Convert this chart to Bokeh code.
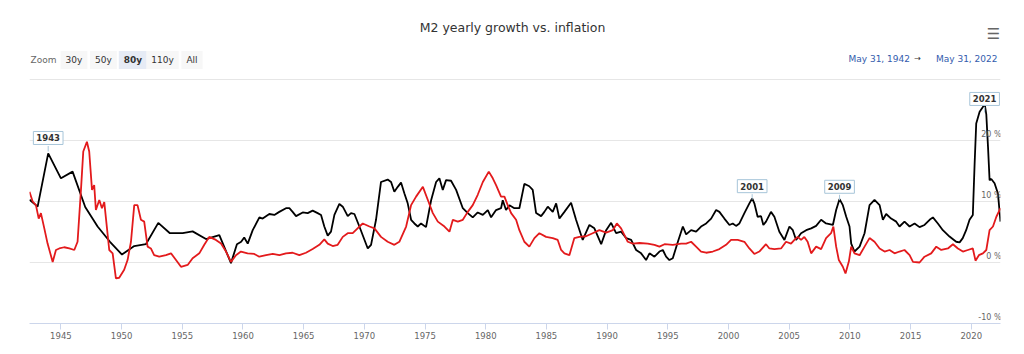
from bokeh.plotting import figure
from bokeh.models import Range1d, FixedTicker, Grid, Label, ColumnDataSource
from bokeh.embed import file_html
from bokeh.resources import INLINE

# ---------------- data ----------------
m2_year = [1942.41, 1943.08, 1943.95, 1945.00, 1945.96, 1947.00, 1948.02, 1949.04, 1950.03, 1951.04,
           1952.00, 1953.02, 1953.98, 1955.03, 1955.85, 1956.95, 1958.05, 1959.01, 1959.50, 1959.85,
           1960.10, 1960.39, 1960.80, 1961.35, 1961.62, 1962.17, 1962.58, 1962.99, 1963.54, 1963.82,
           1964.09, 1964.37, 1964.92, 1965.33, 1965.74, 1966.15, 1966.43, 1966.70, 1966.98, 1967.25,
           1967.53, 1967.94, 1968.22, 1968.63, 1968.90, 1969.18, 1969.59, 1970.28, 1970.55, 1970.96,
           1971.37, 1971.92, 1972.20, 1972.47, 1972.75, 1973.02, 1973.30, 1973.57, 1973.85, 1974.12,
           1974.40, 1974.67, 1975.08, 1975.50, 1975.91, 1976.18, 1976.46, 1976.73, 1977.14, 1977.56,
           1978.11, 1978.52, 1978.93, 1979.34, 1979.76, 1980.17, 1980.44, 1980.85, 1981.26, 1981.40,
           1981.67, 1981.95, 1982.36, 1982.77, 1983.18, 1983.59, 1983.87, 1984.15, 1984.56, 1984.83,
           1985.11, 1985.52, 1985.80, 1986.07, 1986.48, 1987.03, 1987.44, 1987.99, 1988.54, 1988.95,
           1989.51, 1989.92, 1990.33, 1990.74, 1991.15, 1991.57, 1991.98, 1992.39, 1992.80, 1993.21,
           1993.49, 1993.90, 1994.31, 1994.59, 1994.86, 1995.13, 1995.41, 1995.83, 1996.24, 1996.51,
           1996.92, 1997.33, 1997.74, 1998.16, 1998.57, 1998.98, 1999.25, 1999.66, 2000.08, 2000.35,
           2000.62, 2000.90, 2001.31, 2001.72, 2001.95, 2002.13, 2002.40, 2002.68, 2002.87, 2003.09,
           2003.50, 2003.78, 2004.19, 2004.61, 2005.02, 2005.30, 2005.57, 2005.98, 2006.40, 2006.81,
           2007.22, 2007.63, 2008.04, 2008.60, 2008.87, 2009.15, 2009.42, 2009.70, 2009.97, 2010.11,
           2010.38, 2010.80, 2011.21, 2011.62, 2012.03, 2012.45, 2012.72, 2012.99, 2013.40, 2013.82,
           2014.09, 2014.50, 2014.92, 2015.33, 2015.74, 2016.15, 2016.57, 2016.84, 2017.25, 2017.66,
           2018.21, 2018.76, 2019.04, 2019.30, 2019.58, 2019.86, 2020.13, 2020.28, 2020.41, 2020.69,
           2020.96, 2021.10, 2021.24, 2021.38, 2021.51, 2021.65, 2021.92, 2022.20, 2022.41]
m2_growth = [10.3, 9.15, 17.9, 13.8, 14.9, 9.1, 5.9, 3.4, 1.3, 2.7,
             3.0, 6.5, 4.8, 4.8, 5.1, 3.85, 4.5, -0.1, 3.0, 3.4,
             4.1, 3.1, 5.3, 7.4, 7.2, 7.95, 7.8, 8.3, 8.9, 8.9,
             8.3, 7.6, 8.2, 8.1, 8.5, 8.1, 7.8, 5.9, 4.4, 5.05,
             7.8, 9.6, 9.15, 7.6, 8.1, 7.95, 5.9, 2.3, 2.9, 7.0,
             13.2, 13.6, 13.2, 11.6, 12.4, 13.1, 11.3, 9.7, 7.0, 6.4,
             5.9, 6.4, 5.8, 10.2, 13.2, 13.8, 11.9, 13.5, 13.4, 11.9,
             8.9, 8.1, 7.4, 8.2, 7.8, 8.6, 7.4, 8.6, 8.9, 10.2,
             8.6, 9.4, 8.9, 8.9, 12.9, 12.5, 11.9, 8.1, 7.6, 8.3,
             9.15, 8.3, 9.7, 7.2, 8.3, 9.8, 7.0, 3.7, 6.15, 5.6,
             3.0, 5.3, 6.5, 4.8, 5.05, 4.0, 3.7, 2.05, 1.5, 0.4,
             1.5, 0.95, 1.8, 2.05, 0.95, 0.4, 0.7, 3.4, 5.9, 4.6,
             5.3, 5.05, 5.9, 6.4, 7.2, 8.6, 8.3, 7.2, 6.15, 6.4,
             6.0, 6.4, 8.1, 9.7, 10.5, 9.7, 7.5, 7.6, 6.15, 6.7,
             8.3, 7.5, 5.05, 3.7, 5.9, 5.3, 3.7, 4.8, 5.3, 5.6,
             6.0, 7.0, 6.4, 6.15, 8.6, 10.4, 9.4, 7.5, 5.9, 3.1,
             1.8, 2.6, 4.8, 9.4, 10.25, 9.4, 7.0, 7.95, 7.2, 6.7,
             5.9, 6.7, 5.9, 6.4, 5.8, 6.15, 7.0, 7.4, 6.4, 5.3,
             4.25, 3.4, 3.3, 4.0, 5.3, 7.0, 7.8, 16.3, 22.8, 24.7,
             25.5, 26.1, 24.3, 19.0, 13.5, 13.7, 13.0, 11.3, 6.7]

cpi_year = [1942.41, 1942.67, 1942.94, 1943.17, 1943.35, 1943.63, 1943.90, 1944.32, 1944.59, 1944.86,
            1945.27, 1945.69, 1946.10, 1946.37, 1946.65, 1946.84, 1947.14, 1947.33, 1947.56, 1947.74,
            1947.88, 1948.16, 1948.38, 1948.57, 1948.98, 1949.26, 1949.53, 1949.80, 1950.21, 1950.49,
            1950.77, 1951.04, 1951.31, 1951.59, 1951.86, 1952.14, 1952.41, 1952.68, 1953.10, 1953.65,
            1954.07, 1954.48, 1954.89, 1955.44, 1955.85, 1956.40, 1956.81, 1957.22, 1957.77, 1958.19,
            1958.60, 1959.01, 1959.42, 1959.83, 1960.38, 1960.93, 1961.34, 1961.90, 1962.45, 1963.00,
            1963.54, 1964.09, 1964.64, 1965.19, 1965.74, 1966.29, 1966.70, 1966.98, 1967.39, 1967.80,
            1968.22, 1968.63, 1969.04, 1969.59, 1969.87, 1970.42, 1970.83, 1971.37, 1971.92, 1972.47,
            1972.88, 1973.44, 1973.85, 1974.26, 1974.82, 1975.23, 1975.64, 1976.05, 1976.60, 1977.01,
            1977.29, 1977.70, 1978.11, 1978.52, 1978.93, 1979.34, 1979.76, 1980.25, 1980.58, 1980.85,
            1981.26, 1981.54, 1981.81, 1982.09, 1982.50, 1982.77, 1983.18, 1983.59, 1984.01, 1984.42,
            1984.97, 1985.52, 1985.93, 1986.21, 1986.48, 1986.89, 1987.30, 1987.71, 1988.26, 1988.81,
            1989.36, 1989.92, 1990.47, 1990.80, 1991.15, 1991.43, 1991.70, 1992.12, 1992.67, 1993.35,
            1993.90, 1994.31, 1994.73, 1995.41, 1996.10, 1996.51, 1996.92, 1997.33, 1997.74, 1998.16,
            1998.71, 1999.25, 1999.80, 2000.21, 2000.76, 2001.31, 2001.72, 2002.13, 2002.54, 2003.09,
            2003.37, 2003.78, 2004.33, 2004.74, 2005.15, 2005.43, 2005.70, 2005.98, 2006.25, 2006.52,
            2006.81, 2007.22, 2007.63, 2008.04, 2008.45, 2008.64, 2008.87, 2009.09, 2009.42, 2009.64,
            2009.92, 2010.11, 2010.38, 2010.80, 2011.21, 2011.62, 2012.03, 2012.45, 2012.86, 2013.27,
            2013.68, 2014.09, 2014.50, 2014.92, 2015.20, 2015.74, 2016.15, 2016.70, 2017.12, 2017.53,
            2018.08, 2018.49, 2018.90, 2019.31, 2019.72, 2020.13, 2020.35, 2020.63, 2020.96, 2021.24,
            2021.51, 2021.79, 2022.07, 2022.41]
cpi_inflation = [11.6, 10.0, 9.4, 7.2, 8.1, 5.6, 3.1, 0.1, 2.05, 2.3,
                 2.5, 2.3, 2.05, 3.4, 11.9, 18.2, 19.8, 18.2, 11.9, 12.7,
                 8.6, 10.25, 8.9, 9.9, 2.05, 1.5, -2.6, -2.5, -1.2, 0.4,
                 3.4, 9.4, 9.4, 7.0, 6.7, 2.6, 2.3, 1.2, 0.95, 1.2,
                 1.5, 0.4, -0.7, -0.4, 0.7, 1.5, 2.9, 4.2, 3.7, 3.1,
                 1.8, 0.1, 1.2, 1.8, 1.5, 1.4, 0.95, 1.2, 1.4, 1.2,
                 1.5, 1.6, 1.2, 1.6, 2.2, 2.9, 3.8, 3.1, 2.7, 2.9,
                 4.2, 4.8, 4.8, 5.9, 6.4, 5.9, 5.6, 4.2, 3.4, 2.9,
                 3.4, 5.9, 9.4, 10.8, 12.4, 10.25, 8.1, 6.7, 5.9, 5.05,
                 7.0, 6.7, 7.0, 8.3, 9.4, 11.1, 13.2, 14.9, 13.8, 12.7,
                 10.8, 10.8, 9.4, 8.1, 7.0, 5.3, 3.4, 2.6, 4.0, 4.8,
                 4.2, 4.0, 3.7, 2.05, 1.5, 1.2, 4.0, 4.2, 4.3, 4.8,
                 5.3, 4.9, 5.3, 6.4, 5.6, 4.5, 3.4, 3.1, 3.2, 3.1,
                 2.9, 2.6, 3.0, 2.9, 3.1, 3.1, 3.4, 2.6, 1.8, 1.6,
                 1.8, 2.2, 2.9, 3.7, 3.7, 3.4, 2.3, 1.4, 1.8, 3.0,
                 2.3, 2.2, 2.3, 3.4, 3.1, 3.7, 4.2, 3.7, 4.2, 3.4,
                 1.5, 2.6, 2.2, 4.0, 4.8, 5.9, 2.6, 0.4, -0.7, -1.8,
                 0.2, 2.6, 1.5, 1.2, 2.6, 4.0, 3.4, 2.3, 1.8, 2.05,
                 1.5, 1.8, 2.05, 1.2, 0.1, 0.0, 0.95, 1.5, 2.6, 2.05,
                 2.3, 3.0, 2.3, 1.8, 2.05, 2.3, 0.3, 1.2, 1.5, 2.05,
                 5.3, 5.9, 7.5, 8.9]

x_start, x_end = 1942.41, 2022.41
y_min, y_max = -10, 30
x_ticks = [1945, 1950, 1955, 1960, 1965, 1970, 1975, 1980, 1985, 1990, 1995, 2000, 2005, 2010, 2015, 2020]
y_grid = [-10, 0, 10, 20, 30]
y_labels = {-10: "-10 %", 0: "0 %", 10: "10 %", 20: "20 %"}

flag_titles = ["1943", "2001", "2009", "2021"]
flag_years = [1943.95, 2001.95, 2009.15, 2021.10]
flag_values = [18.2, 10.3, 10.2, 24.6]

title_text = "M2 yearly growth vs. inflation"
zoom_buttons = ["30y", "50y", "80y", "110y", "All"]
zoom_selected = "80y"
date_from, date_to = "May 31, 1942", "May 31, 2022"

# ---------------- layout helpers (pixel placement of the header band) ----------------
W, H = 1024, 354
F_LEFT, F_RIGHT, F_BOTTOM, PLOT_TOP = 29, 1000, 323, 79   # plot area in pixels


def px_x(px):
    return x_start + (px - F_LEFT) * (x_end - x_start) / (F_RIGHT - F_LEFT)


def px_y(py):
    return y_min + (F_BOTTOM - py) * (y_max - y_min) / (F_BOTTOM - PLOT_TOP)


y_top = px_y(0)  # frame extends to the top of the canvas to hold the header band

# ---------------- figure ----------------
FONT = "DejaVu Sans"
p = figure(width=W, height=H, x_range=Range1d(x_start, x_end), y_range=Range1d(y_min, y_top),
           output_backend="svg", toolbar_location=None, y_axis_location=None,
           min_border_left=F_LEFT, min_border_right=W - F_RIGHT, min_border_top=0,
           min_border_bottom=H - F_BOTTOM)
p.outline_line_color = None
p.background_fill_color = "white"
p.border_fill_color = "white"

p.xgrid.visible = False
p.ygrid.visible = False
p.add_layout(Grid(dimension=1, ticker=FixedTicker(ticks=y_grid), grid_line_color="#e6e6e6"))

ax = p.xaxis[0]
ax.ticker = FixedTicker(ticks=x_ticks)
ax.major_label_overrides = {t: str(t) for t in x_ticks}
ax.axis_line_color = "#ccd6eb"
ax.major_tick_line_color = "#ccd6eb"
ax.major_tick_in = 0
ax.major_tick_out = 6
ax.minor_tick_line_color = None
ax.major_label_standoff = 2
ax.major_label_text_font = FONT
ax.major_label_text_font_size = "8.5px"
ax.major_label_text_color = "#666666"

src_m2 = ColumnDataSource(dict(x=m2_year, y=m2_growth))
src_cpi = ColumnDataSource(dict(x=cpi_year, y=cpi_inflation))
p.line("x", "y", source=src_m2, line_color="#000000", line_width=1.8)
p.line("x", "y", source=src_cpi, line_color="#e31a1c", line_width=1.8)

# y labels inside the plot (right side, above grid lines)
for v, t in y_labels.items():
    p.add_layout(Label(x=x_end, y=v, text=t, x_offset=1, y_offset=2, text_align="right",
                       text_baseline="bottom", text_font=FONT, text_font_size="8px",
                       text_color="#666666"))

# flags
flag_pin = 0.9
p.segment(x0=flag_years, y0=flag_values, x1=flag_years, y1=[v + flag_pin for v in flag_values],
          line_color="#a7c5d9", line_width=1)
for t, xv, yv in zip(flag_titles, flag_years, flag_values):
    p.add_layout(Label(x=xv, y=yv, text=t, y_offset=7, text_align="center", text_baseline="bottom",
                       text_font=FONT, text_font_size="8.5px", text_font_style="bold",
                       text_color="#333333", background_fill_color="white",
                       border_line_color="#a7c5d9", border_line_width=1, padding=(3, 3)))

# title, menu, range selector (header band)
p.add_layout(Label(x=px_x(512), y=px_y(27), text=title_text,
                   text_align="center", text_baseline="middle", text_font=FONT,
                   text_font_size="12.5px", text_color="#333333"))
p.add_layout(Label(x=px_x(993), y=px_y(33), text="\u2630",
                   text_align="center", text_baseline="middle", text_font=FONT,
                   text_font_size="15px", text_color="#666666"))
p.add_layout(Label(x=px_x(30), y=px_y(59), text="Zoom",
                   text_align="left", text_baseline="middle", text_font=FONT,
                   text_font_size="9px", text_color="#666666"))
for i, b in enumerate(zoom_buttons):
    sel = b == zoom_selected
    p.add_layout(Label(x=px_x(73.5 + 29.5 * i), y=px_y(59.5), text=b,
                       text_align="center", text_baseline="middle", text_font=FONT,
                       text_font_size="9px", text_color="#333333",
                       text_font_style="bold" if sel else "normal",
                       background_fill_color="#e6ebf5" if sel else "#f7f7f7",
                       padding=(5, 4)))
p.add_layout(Label(x=px_x(909.5), y=px_y(58), text=date_from,
                   text_align="right", text_baseline="middle", text_font=FONT,
                   text_font_size="9px", text_color="#335cad"))
p.add_layout(Label(x=px_x(917), y=px_y(58), text="\u2192",
                   text_align="center", text_baseline="middle", text_font=FONT,
                   text_font_size="8px", text_color="#333333"))
p.add_layout(Label(x=px_x(997), y=px_y(58), text=date_to,
                   text_align="right", text_baseline="middle", text_font=FONT,
                   text_font_size="9px", text_color="#335cad"))

open("out.html", "w").write(file_html(p, INLINE))
